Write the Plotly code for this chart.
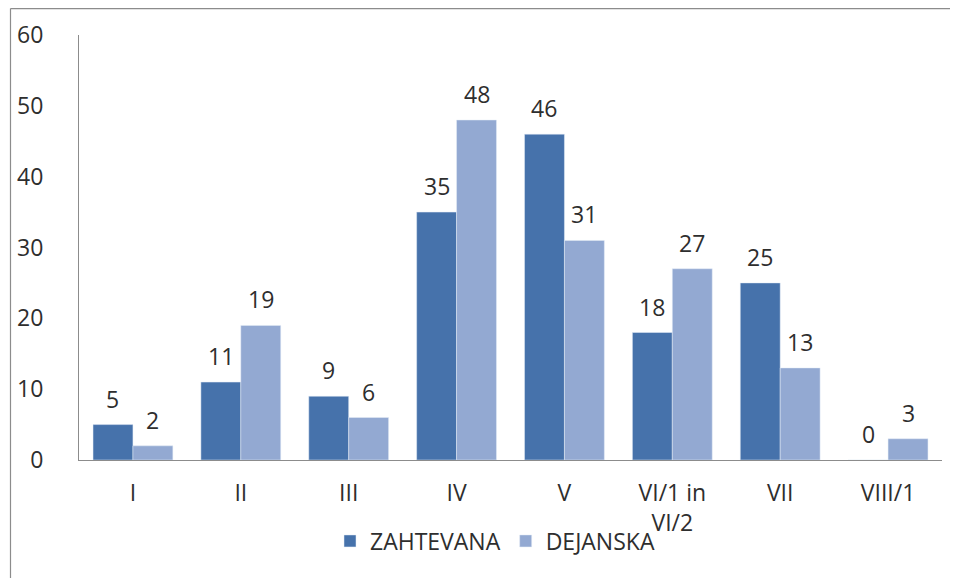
import plotly.graph_objects as go

categories = ["I", "II", "III", "IV", "V", "VI/1 in<br>VI/2", "VII", "VIII/1"]
zahtevana = [5, 11, 9, 35, 46, 18, 25, 0]
dejanska = [2, 19, 6, 48, 31, 27, 13, 3]
y_ticks = [0, 10, 20, 30, 40, 50, 60]

dark = "#4672AB"
light = "#93A9D2"
font_family = "Open Sans, Liberation Sans, Arial"
text_color = "#2E2E2E"

# page body has an 8px margin, figure coordinates are viewport - 8
W, H = 950, 570
ml, mr, mt, mb = 71, 16, 27, 118
pw, ph = W - ml - mr, H - mt - mb
bargap = 0.26
off = (1 - bargap) / 4

fig = go.Figure()
fig.add_trace(go.Bar(x=categories, y=zahtevana, name="ZAHTEVANA", marker_color=dark))
fig.add_trace(go.Bar(x=categories, y=dejanska, name="DEJANSKA", marker_color=light))

annotations = []
for i, (a, b) in enumerate(zip(zahtevana, dejanska)):
    for val, dx in ((a, -off), (b, off)):
        annotations.append(dict(x=i + dx, y=val, xref="x", yref="y", text=str(val),
                                showarrow=False, yshift=26, yanchor="middle",
                                font=dict(size=23, color=text_color, family=font_family)))

def px_to_paper_x(px):
    return (px - ml) / pw

def px_to_paper_y(py):
    return (H - mb - py) / ph

frame = dict(color="#8C8C8C", width=1.2)
fig.update_layout(
    width=W, height=H,
    margin=dict(l=ml, r=mr, t=mt, b=mb, autoexpand=False),
    paper_bgcolor="white", plot_bgcolor="white",
    barmode="group", bargap=bargap, bargroupgap=0,
    font=dict(family=font_family, size=22, color=text_color),
    showlegend=True,
    legend=dict(orientation="h", x=px_to_paper_x(487), xanchor="center",
                y=px_to_paper_y(533), yanchor="middle",
                font=dict(size=23, color=text_color), itemwidth=30, traceorder="normal",
                bgcolor="rgba(0,0,0,0)"),
    annotations=annotations,
    shapes=[
        dict(type="line", xref="paper", yref="paper",
             x0=px_to_paper_x(2.5), x1=px_to_paper_x(2.5),
             y0=px_to_paper_y(0.6), y1=px_to_paper_y(H + 5), line=frame, layer="below"),
        dict(type="line", xref="paper", yref="paper",
             x0=px_to_paper_x(2.5), x1=px_to_paper_x(W + 5),
             y0=px_to_paper_y(0.6), y1=px_to_paper_y(0.6), line=frame, layer="below"),
    ],
)
fig.update_xaxes(showline=True, linecolor="#8C8C8C", linewidth=1, showgrid=False, automargin=False,
                 ticks="", tickfont=dict(size=23, color=text_color), ticklabelstandoff=12)
fig.update_yaxes(range=[0, 60], tickvals=y_ticks, showline=True, linecolor="#8C8C8C",
                 linewidth=1, showgrid=False, zeroline=False, ticks="", automargin=False,
                 tickfont=dict(size=23, color=text_color), ticklabelstandoff=30)

fig.write_html("out.html")
